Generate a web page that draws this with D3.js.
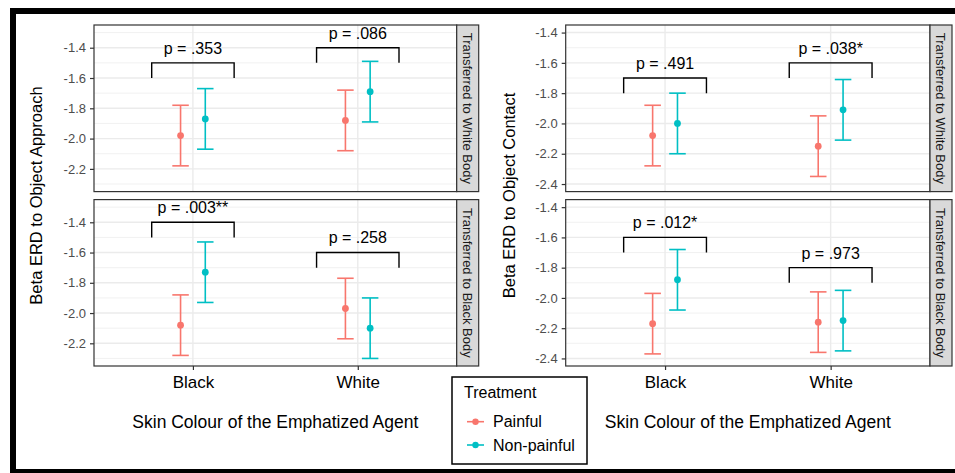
<!DOCTYPE html>
<html><head><meta charset="utf-8">
<script src="https://cdn.jsdelivr.net/npm/d3@7"></script>
<style>body{margin:0;background:#fff}svg{display:block}text{font-family:"Liberation Sans",Arial,sans-serif}</style>
</head><body><svg id="c" width="955" height="473"></svg>
<script>
// ---- data ----
const categories = ["Black", "White"];
const treatments = ["Painful", "Non-painful"];
const rowFacets = ["Transferred to White Body", "Transferred to Black Body"];
const measures = ["Beta ERD to Object Approach", "Beta ERD to Object Contact"];
const xTitle = "Skin Colour of the Emphatized Agent";
const legendTitle = "Treatment";

// means [category][treatment]
const approachWhiteBody = [[-1.98, -1.87], [-1.88, -1.69]];
const approachBlackBody = [[-2.08, -1.73], [-1.97, -2.10]];
const contactWhiteBody  = [[-2.08, -2.00], [-2.15, -1.91]];
const contactBlackBody  = [[-2.17, -1.88], [-2.16, -2.15]];
// error half-widths [category][treatment]
const approachWhiteBodyErr = [[0.20, 0.20], [0.20, 0.20]];
const approachBlackBodyErr = [[0.20, 0.20], [0.20, 0.20]];
const contactWhiteBodyErr  = [[0.20, 0.20], [0.20, 0.20]];
const contactBlackBodyErr  = [[0.20, 0.20], [0.20, 0.20]];
// comparison brackets: top of bracket per category, and p labels
const approachWhiteBodyBracket = [-1.5, -1.4];
const approachBlackBodyBracket = [-1.4, -1.6];
const contactWhiteBodyBracket  = [-1.7, -1.6];
const contactBlackBodyBracket  = [-1.6, -1.8];
const approachWhiteBodyP = ["p = .353", "p = .086"];
const approachBlackBodyP = ["p = .003**", "p = .258"];
const contactWhiteBodyP  = ["p = .491", "p = .038*"];
const contactBlackBodyP  = ["p = .012*", "p = .973"];

const approachTicks = [-2.2, -2.0, -1.8, -1.6, -1.4];
const contactTicks = [-2.4, -2.2, -2.0, -1.8, -1.6, -1.4];
const approachLimits = [-2.3, -1.3];
const contactLimits = [-2.4, -1.4];

// ---- layout ----
const colors = ["#F8766D", "#00BFC4"];
const svg = d3.select("#c");
svg.append("rect").attr("x", 10).attr("y", 8).attr("width", 960).attr("height", 470).attr("fill", "#000");
svg.append("rect").attr("x", 16).attr("y", 14).attr("width", 950).attr("height", 455).attr("fill", "#fff");

const cols = [
  {x0: 94, x1: 456.7, titleX: 36, limits: approachLimits, ticks: approachTicks,
   panels: [
     {m: approachWhiteBody, e: approachWhiteBodyErr, b: approachWhiteBodyBracket, p: approachWhiteBodyP},
     {m: approachBlackBody, e: approachBlackBodyErr, b: approachBlackBodyBracket, p: approachBlackBodyP}]},
  {x0: 565.7, x1: 930, titleX: 509, limits: contactLimits, ticks: contactTicks,
   panels: [
     {m: contactWhiteBody, e: contactWhiteBodyErr, b: contactWhiteBodyBracket, p: contactWhiteBodyP},
     {m: contactBlackBody, e: contactBlackBodyErr, b: contactBlackBodyBracket, p: contactBlackBodyP}]}
];
const rows = [{y0: 25, y1: 191.6}, {y0: 199.6, y1: 366}];
const stripW = 22;
const font = '"Liberation Sans",Arial,sans-serif';

cols.forEach((col, ci) => {
  const x = d3.scalePoint().domain(categories).range([col.x0, col.x1]).padding(0.6);
  const step = x.step();
  const span = col.limits[1] - col.limits[0];
  rows.forEach((row, ri) => {
    const P = col.panels[ri];
    const y = d3.scaleLinear().domain([col.limits[0] - 0.05 * span, col.limits[1] + 0.05 * span]).range([row.y1, row.y0]);
    const g = svg.append("g");
    g.append("rect").attr("x", col.x0).attr("y", row.y0).attr("width", col.x1 - col.x0).attr("height", row.y1 - row.y0).attr("fill", "#fff");
    // minor grid
    const minors = [];
    const t = col.ticks;
    const stepT = t[1] - t[0];
    for (let i = -1; i < t.length; i++) {
      const v = t[0] + (i + 0.5) * stepT;
      const yy = y(v);
      if (yy > row.y0 && yy < row.y1) minors.push(v);
    }
    g.selectAll(".mi").data(minors).join("line")
      .attr("x1", col.x0).attr("x2", col.x1).attr("y1", d => y(d)).attr("y2", d => y(d))
      .attr("stroke", "#EBEBEB").attr("stroke-width", 0.7);
    g.selectAll(".ma").data(col.ticks).join("line")
      .attr("x1", col.x0).attr("x2", col.x1).attr("y1", d => y(d)).attr("y2", d => y(d))
      .attr("stroke", "#EBEBEB").attr("stroke-width", 1.4);
    g.selectAll(".vx").data(categories).join("line")
      .attr("x1", d => x(d)).attr("x2", d => x(d)).attr("y1", row.y0).attr("y2", row.y1)
      .attr("stroke", "#EBEBEB").attr("stroke-width", 1.4);

    // error bars + points
    categories.forEach((cat, k) => {
      treatments.forEach((tr, j) => {
        const cx = x(cat) + (j === 0 ? -0.075 : 0.075) * step;
        const m = P.m[k][j], e = P.e[k][j];
        const cap = 0.05 * step;
        const eg = g.append("g").attr("stroke", colors[j]).attr("stroke-width", 1.6).attr("fill", "none");
        eg.append("line").attr("x1", cx).attr("x2", cx).attr("y1", y(m - e)).attr("y2", y(m + e));
        eg.append("line").attr("x1", cx - cap).attr("x2", cx + cap).attr("y1", y(m + e)).attr("y2", y(m + e));
        eg.append("line").attr("x1", cx - cap).attr("x2", cx + cap).attr("y1", y(m - e)).attr("y2", y(m - e));
        g.append("circle").attr("cx", cx).attr("cy", y(m)).attr("r", 3.4).attr("fill", colors[j]);
      });
      // bracket
      const top = P.b[k];
      const bx0 = x(cat) - 0.25 * step, bx1 = x(cat) + 0.25 * step;
      g.append("path")
        .attr("d", `M${bx0},${y(top - 0.1)}L${bx0},${y(top)}L${bx1},${y(top)}L${bx1},${y(top - 0.1)}`)
        .attr("fill", "none").attr("stroke", "#000").attr("stroke-width", 1.4);
      g.append("text").attr("x", x(cat)).attr("y", y(top + 0.1)).attr("dy", "0.38em")
        .attr("text-anchor", "middle").attr("font-size", 16).attr("fill", "#000").text(P.p[k]);
    });

    // border
    g.append("rect").attr("x", col.x0).attr("y", row.y0).attr("width", col.x1 - col.x0).attr("height", row.y1 - row.y0)
      .attr("fill", "none").attr("stroke", "#333").attr("stroke-width", 1.2);
    // strip
    g.append("rect").attr("x", col.x1).attr("y", row.y0).attr("width", stripW).attr("height", row.y1 - row.y0)
      .attr("fill", "#D9D9D9").attr("stroke", "#333").attr("stroke-width", 1.2);
    const sx = col.x1 + stripW / 2, sy = (row.y0 + row.y1) / 2;
    g.append("text").attr("transform", `translate(${sx},${sy}) rotate(90)`).attr("text-anchor", "middle")
      .attr("dy", "0.35em").attr("font-size", 13).attr("fill", "#1A1A1A").text(rowFacets[ri]);

    // y axis
    const ya = svg.append("g").attr("transform", `translate(${col.x0},0)`)
      .call(d3.axisLeft(y).tickValues(col.ticks).tickSize(4).tickPadding(4).tickFormat(d => d.toFixed(1)));
    ya.select(".domain").remove();
    ya.selectAll("line").attr("stroke", "#333").attr("stroke-width", 1.2);
    ya.selectAll("text").attr("font-size", 13).attr("fill", "#4D4D4D").attr("font-family", font);

    if (ri === 1) {
      const xa = svg.append("g").attr("transform", `translate(0,${row.y1})`)
        .call(d3.axisBottom(x).tickSize(4).tickPadding(6));
      xa.select(".domain").remove();
      xa.selectAll("line").attr("stroke", "#333").attr("stroke-width", 1.2);
      xa.selectAll("text").attr("font-size", 17).attr("fill", "#000").attr("font-family", font);
    }
  });
  // axis titles
  svg.append("text").attr("x", (col.x0 + col.x1) / 2).attr("y", 421.7).attr("dy", "0.35em")
    .attr("text-anchor", "middle").attr("font-size", 17.5).attr("fill", "#000").text(xTitle);
  svg.append("text").attr("transform", `translate(${col.titleX},${(rows[0].y0 + rows[1].y1) / 2}) rotate(-90)`)
    .attr("dy", "0.35em").attr("text-anchor", "middle").attr("font-size", 16.5).attr("fill", "#000").text(measures[ci]);
});

// legend
const lg = svg.append("g");
lg.append("rect").attr("x", 452).attr("y", 377).attr("width", 135).attr("height", 87)
  .attr("fill", "#fff").attr("stroke", "#000").attr("stroke-width", 1.5);
lg.append("text").attr("x", 464).attr("y", 392.5).attr("dy", "0.35em").attr("font-size", 16).attr("fill", "#000").text(legendTitle);
treatments.forEach((tr, j) => {
  const yy = 421.7 + j * 23.3;
  lg.append("line").attr("x1", 467).attr("x2", 484).attr("y1", yy).attr("y2", yy).attr("stroke", colors[j]).attr("stroke-width", 1.6);
  lg.append("circle").attr("cx", 475.5).attr("cy", yy).attr("r", 3.2).attr("fill", colors[j]);
  lg.append("text").attr("x", 493).attr("y", yy).attr("dy", "0.35em").attr("font-size", 16).attr("fill", "#000").text(tr);
});
</script></body></html>
